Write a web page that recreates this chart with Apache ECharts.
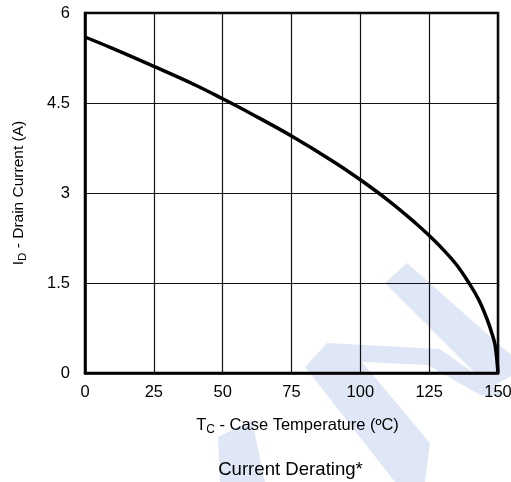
<!DOCTYPE html>
<html>
<head>
<meta charset="utf-8">
<script src="https://cdn.jsdelivr.net/npm/echarts@6/dist/echarts.min.js"></script>
<style>
    html, body { margin: 0; padding: 0; background: #fff; }
    #chart { width: 511px; height: 482px; }
</style>
</head>
<body>
<div id="chart"></div>
<script>
// case temperature (C) and drain current (A)
var temps = [0, 10, 25, 40, 50, 60, 75, 90, 100, 110, 120, 125, 130, 135, 140, 143, 146, 148, 149, 150]
var current = [5.6, 5.41, 5.11, 4.8, 4.57, 4.33, 3.95, 3.53, 3.22, 2.88, 2.5, 2.29, 2.06, 1.8, 1.46, 1.22, 0.9, 0.63, 0.45, 0]
var xTicks = [0, 25, 50, 75, 100, 125, 150]
var yTicks = [0, 1.5, 3, 4.5, 6]

var points = temps.map(function (t, i) { return [t, current[i]] })

var echart = echarts.init(document.getElementById('chart'))
var font = 'Liberation Sans, Arial, sans-serif'
var wm = '#dfe7f6'
var nameRich = {
    a: { fontFamily: font, fontSize: 16.5, color: '#000' },
    s: { fontFamily: font, fontSize: 12, color: '#000', padding: [9, 0, 0, 0] }
}
var yNameRich = {
    a: { fontFamily: font, fontSize: 15.5, color: '#000' },
    s: { fontFamily: font, fontSize: 11.5, color: '#000', padding: [9, 0, 0, 0] }
}

var option = {
    animation: false,
    title: {
        text: 'Current Derating*',
        left: 285.5,
        textAlign: 'center',
        top: 455,
        textStyle: { fontFamily: font, fontSize: 18.6, fontWeight: 'normal', color: '#000' }
    },
    // faint logo watermark behind the plot
    graphic: [
        { type: 'polygon', z: -10, shape: { points: [[407, 263], [511, 355], [511, 376], [490, 388], [385, 283]] }, style: { fill: wm } },
        { type: 'polygon', z: -10, shape: { points: [[327, 343], [440, 349], [505, 395], [480, 395], [428, 365], [362, 362], [430, 443], [425, 482], [395, 482], [305, 367]] }, style: { fill: wm } },
        { type: 'polygon', z: -10, shape: { points: [[218, 437], [252, 420], [265, 482], [220, 482]] }, style: { fill: wm } }
    ],
    grid: {
        left: 85,
        top: 13,
        width: 413,
        height: 360,
        outerBoundsMode: 'none',
        containLabel: false,
        show: true,
        borderColor: '#000',
        borderWidth: 2.5,
        backgroundColor: 'transparent'
    },
    xAxis: {
        type: 'value',
        min: 0,
        max: 150,
        interval: 25,
        name: '{a|T}{s|C}{a| - Case Temperature (ºC)}',
        nameLocation: 'middle',
        nameGap: 42,
        nameTextStyle: { rich: nameRich, padding: [0, 0, 0, 12] },
        axisLine: { show: true, lineStyle: { color: '#000', width: 2.5 } },
        axisTick: { show: false },
        axisLabel: {
            fontFamily: font, fontSize: 16.5, color: '#000', margin: 11,
            formatter: function (v) { return xTicks.indexOf(v) >= 0 ? String(v) : '' }
        },
        splitLine: { show: true, lineStyle: { color: '#111', width: 1.2 } }
    },
    yAxis: {
        type: 'value',
        min: 0,
        max: 6,
        interval: 1.5,
        name: '{a|I}{s|D}{a| - Drain Current (A)}',
        nameLocation: 'middle',
        nameGap: 56,
        nameRotate: 90,
        nameTextStyle: { rich: yNameRich },
        axisLine: { show: true, lineStyle: { color: '#000', width: 2.5 } },
        axisTick: { show: false },
        axisLabel: {
            fontFamily: font, fontSize: 16.5, color: '#000', margin: 15,
            formatter: function (v) { return yTicks.indexOf(v) >= 0 ? String(v) : '' }
        },
        splitLine: { show: true, lineStyle: { color: '#111', width: 1.2 } }
    },
    series: [
        {
            type: 'line',
            data: points,
            smooth: 0.4,
            showSymbol: false,
            lineStyle: { color: '#000', width: 3.5 },
            z: 5
        }
    ]
}
echart.setOption(option)
</script>
</body>
</html>
